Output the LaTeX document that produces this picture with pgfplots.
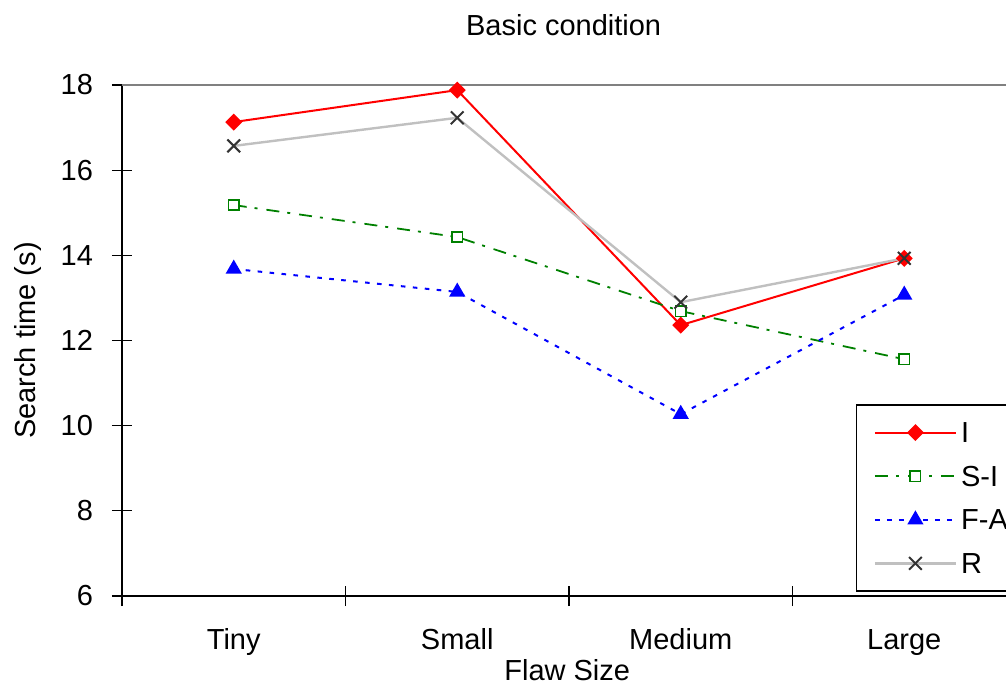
\documentclass[border=0pt]{standalone}
\usepackage{fontspec}
\setmainfont{Liberation Sans}
\usepackage{pgfplots}
\pgfplotsset{compat=1.18}
\definecolor{cI}{RGB}{255,0,0}
\definecolor{cSI}{RGB}{0,128,0}
\definecolor{cFA}{RGB}{0,0,255}
\definecolor{cRline}{RGB}{192,192,192}
\definecolor{cRmark}{RGB}{51,51,51}
\definecolor{topgray}{RGB}{128,128,128}
\begin{document}
\begin{tikzpicture}[font=\fontsize{14.5pt}{17pt}\selectfont]
\begin{axis}[
  scale only axis, width=447pt, height=255.5pt,
  xmin=0, xmax=4, ymin=6, ymax=18,
  xtick={0,1,2,3,4}, xticklabels={Tiny,Small,Medium,Large},
  x tick label as interval,
  ytick={6,8,...,18},
  axis x line*=bottom, axis y line*=left,
  axis line style={line width=0.75pt, black},
  every tick/.style={black, line width=0.6pt},
  tick align=center, major tick length=10pt,
  /pgf/number format/assume math mode=true,
  xticklabel style={anchor=base, yshift=-21.5pt},
  yticklabel style={anchor=east, xshift=-6pt},
  xlabel={Flaw Size}, ylabel={Search time (s)},
  xlabel style={at={(axis description cs:0.498,-0.145)}, anchor=center},
  ylabel style={at={(axis description cs:-0.105,0.5)}, anchor=center},
  title={Basic condition},
  every axis title shift=0pt,
  title style={at={(axis description cs:0.494,1.117)}, anchor=center},
  legend style={at={(axis description cs:0.821,0.3757)}, anchor=north west,
    draw=black, line width=0.75pt, fill=white, inner xsep=8.5pt, inner ysep=3pt,
    row sep=0pt,
    nodes={inner ysep=1.9pt, text height=14pt, text depth=4pt}},
  legend cell align=left,
  legend image code/.code={\draw[mark repeat=2,mark phase=2] plot coordinates {(0pt,0pt) (20.25pt,0pt) (40.5pt,0pt)};},
]
\addplot[color=cI, line width=1pt, mark=square*, mark size=2.5pt, mark options={solid, rotate=45, fill=cI}]
  coordinates {(0.5,17.13) (1.5,17.88) (2.5,12.36) (3.5,13.93)};
\addlegendentry{I}
\addplot[color=cSI, line width=0.9pt, dash pattern=on 6.5pt off 4pt on 1.5pt off 4.5pt, mark=square*, mark size=2.6pt, mark options={solid, fill=white, draw=cSI, line width=0.8pt}]
  coordinates {(0.5,15.18) (1.5,14.43) (2.5,12.69) (3.5,11.56)};
\addlegendentry{S-I}
\addplot[color=cFA, line width=1pt, dash pattern=on 2.3pt off 3.7pt, mark=triangle*, mark size=3.7pt, mark options={solid, fill=cFA}]
  coordinates {(0.5,13.68) (1.5,13.14) (2.5,10.27) (3.5,13.07)};
\addlegendentry{F-A}
\addplot[color=cRline, line width=1.2pt, mark=x, mark size=4.5pt, mark options={solid, draw=cRmark, line width=1pt}]
  coordinates {(0.5,16.57) (1.5,17.23) (2.5,12.90) (3.5,13.93)};
\addlegendentry{R}
\draw[topgray, line width=1pt] (rel axis cs:0,1) -- (rel axis cs:1,1);
\end{axis}
\pgfresetboundingbox
\useasboundingbox (-61pt,-45pt) rectangle (442pt,298pt);
\end{tikzpicture}
\end{document}
